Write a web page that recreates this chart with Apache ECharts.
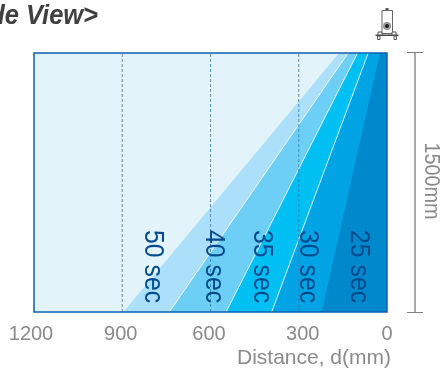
<!DOCTYPE html>
<html>
<head>
<meta charset="utf-8">
<style>html,body{margin:0;padding:0;background:#fff;overflow:hidden}#c{width:441px;height:369px}</style>
<script src="https://cdn.jsdelivr.net/npm/echarts@6/dist/echarts.min.js"></script>
</head>
<body>
<div id="c"></div>
<script>
const xTicks = [1200, 900, 600, 300, 0];
const gridLines = [900, 600, 300];
const zoneLabels = ['50 sec', '40 sec', '35 sec', '30 sec', '25 sec'];
const zoneBottom = [896, 740, 547, 392, 222];
const zoneTop = [163, 132, 100, 64, 24];
const zoneColors = ['#ACE0FA', '#6DCFF6', '#00BFF3', '#00A4E4', '#0088CC'];
const zoneDivider = [false, true, true, true, false];
const labelX = [796, 590, 426, 270, 96];
const labelY = [263, 263, 263, 263, 263];
const heightMm = 1500;

const FONT = '"Liberation Sans", sans-serif';
const chart = echarts.init(document.getElementById('c'), null, {renderer: 'canvas'});
const tickStyle = (l, r) => ({padding: [0, r, 0, l], color: '#8A8A8D', fontSize: 20, fontFamily: FONT});

chart.setOption({
  animation: false,
  backgroundColor: '#fff',
  grid: {left: 34, right: 54, top: 53, bottom: 57, show: true, backgroundColor: '#E2F3F9', borderWidth: 0},
  xAxis: {
    type: 'value', min: 0, max: 1200, interval: 300, inverse: true,
    axisLine: {show: false}, axisTick: {show: false}, splitLine: {show: false},
    axisLabel: {fontSize: 20, fontFamily: FONT, color: '#8A8A8D', margin: 12, hideOverlap: false, showMinLabel: true, showMaxLabel: true,
      formatter: v => v === 1200 ? '{a|1200}' : v === 900 ? '{b|900}' : v === 600 ? '{b|600}' : v === 300 ? '{c|300}' : String(v),
      rich: {a: tickStyle(0, 6), b: tickStyle(0, 3), c: tickStyle(8, 0)}}
  },
  yAxis: {
    type: 'value', min: 0, max: heightMm, interval: heightMm,
    axisLine: {show: false}, axisTick: {show: false}, splitLine: {show: false}, axisLabel: {show: false}
  },
  series: [
    {
      type: 'custom', coordinateSystem: 'cartesian2d', z: 2, silent: true,
      data: zoneBottom.map((b, i) => [b, zoneTop[i], i]),
      encode: {x: 0, y: 1},
      renderItem(p, api) {
        const i = api.value(2);
        const a = api.coord([api.value(0), 0]);
        const b = api.coord([api.value(1), heightMm]);
        const c = api.coord([0, heightMm]);
        const d = api.coord([0, 0]);
        const kids = [{type: 'polygon', shape: {points: [a, b, c, d]}, style: {fill: zoneColors[i]}}];
        if (zoneDivider[i]) kids.push({type: 'line', shape: {x1: a[0], y1: a[1], x2: b[0], y2: b[1]},
          style: {stroke: '#fff', lineWidth: 1, opacity: .85}});
        return {type: 'group', children: kids};
      }
    },
    {
      type: 'custom', coordinateSystem: 'cartesian2d', z: 3, silent: true,
      data: gridLines.map(v => [v, 0]),
      encode: {x: 0, y: 1},
      renderItem(p, api) {
        const a = api.coord([api.value(0), 0]);
        const b = api.coord([api.value(0), heightMm]);
        return {type: 'line', shape: {x1: a[0], y1: a[1], x2: b[0], y2: b[1]},
          style: {stroke: '#3F7FB0', lineWidth: 1, lineDash: [3, 2], opacity: .85}};
      }
    },
    {
      type: 'custom', coordinateSystem: 'cartesian2d', z: 4, silent: true,
      data: labelX.map((x, i) => [x, labelY[i], i]),
      encode: {x: 0, y: 1},
      renderItem(p, api) {
        const q = api.coord([api.value(0), api.value(1)]);
        return {type: 'text', x: q[0], y: q[1], rotation: -Math.PI / 2, scaleX: 0.92,
          style: {text: zoneLabels[api.value(2)], align: 'center', verticalAlign: 'middle',
            fontSize: 27, fontFamily: FONT, fill: '#004B8D'}};
      }
    }
  ],
  graphic: [
    {type: 'rect', z: 10, silent: true, shape: {x: 34, y: 53, width: 353, height: 259},
      style: {fill: 'none', stroke: '#0F5FB0', lineWidth: 1.5}},
    {type: 'text', z: 10, silent: true, x: 98, y: 16, scaleX: 0.91,
      style: {text: '<Side View>', align: 'right', verticalAlign: 'middle',
        font: 'italic bold 28px "Liberation Sans", sans-serif', fill: '#404041'}},
    {type: 'text', z: 10, silent: true, x: 391, y: 358,
      style: {text: 'Distance, d(mm)', align: 'right', verticalAlign: 'middle', fontSize: 21, fontFamily: FONT, fill: '#8A8A8D'}},
    {type: 'line', z: 10, silent: true, shape: {x1: 415, y1: 53, x2: 415, y2: 312}, style: {stroke: '#A7A9AC', lineWidth: 2}},
    {type: 'line', z: 10, silent: true, shape: {x1: 407, y1: 52.5, x2: 423, y2: 52.5}, style: {stroke: '#808285', lineWidth: 1}},
    {type: 'line', z: 10, silent: true, shape: {x1: 407, y1: 312.5, x2: 423, y2: 312.5}, style: {stroke: '#808285', lineWidth: 1}},
    {type: 'text', z: 10, silent: true, x: 431.5, y: 181, rotation: -Math.PI / 2, scaleX: 0.9,
      style: {text: '1500mm', align: 'center', verticalAlign: 'middle', fontSize: 22, fontFamily: FONT, fill: '#8A8A8D'}},
    {type: 'group', z: 10, silent: true, children: [
      {type: 'rect', shape: {x: 382, y: 10.5, width: 10.5, height: 23}, style: {fill: '#fff', stroke: '#666', lineWidth: 1}},
      {type: 'rect', shape: {x: 385.5, y: 8, width: 3, height: 2.5}, style: {fill: '#555'}},
      {type: 'circle', shape: {cx: 387, cy: 26, r: 4}, style: {fill: '#999'}},
      {type: 'circle', shape: {cx: 387, cy: 26, r: 2}, style: {fill: '#222'}},
      {type: 'rect', shape: {x: 375.5, y: 34.5, width: 23, height: 1.5}, style: {fill: '#444'}},
      {type: 'rect', shape: {x: 378, y: 32, width: 4, height: 3}, style: {fill: '#fff', stroke: '#555', lineWidth: 1}},
      {type: 'rect', shape: {x: 392, y: 32, width: 4, height: 3}, style: {fill: '#fff', stroke: '#555', lineWidth: 1}},
      {type: 'rect', shape: {x: 377.5, y: 36, width: 2.5, height: 3.5}, style: {fill: '#fff', stroke: '#555', lineWidth: 1}},
      {type: 'rect', shape: {x: 394, y: 36, width: 2.5, height: 3.5}, style: {fill: '#fff', stroke: '#555', lineWidth: 1}}
    ]}
  ]
});
</script>
</body>
</html>
